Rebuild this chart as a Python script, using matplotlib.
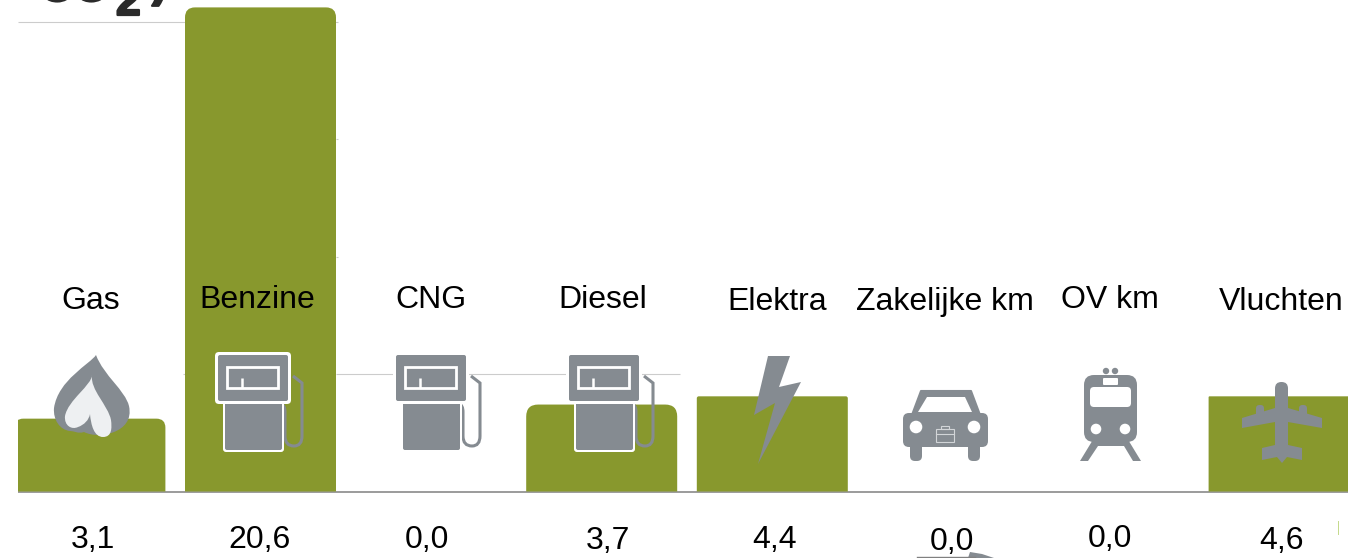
import matplotlib
matplotlib.use('Agg')
import matplotlib.pyplot as plt
import matplotlib.patheffects as pe
from matplotlib.patches import Circle, FancyBboxPatch, PathPatch, Polygon, Rectangle
from matplotlib.path import Path

plt.rcParams['font.family'] = ['Liberation Sans', 'DejaVu Sans']

categories = ['Gas', 'Benzine', 'CNG', 'Diesel', 'Elektra', 'Zakelijke km', 'OV km', 'Vluchten']
value_labels = ['3,1', '20,6', '0,0', '3,7', '4,4', '0,0', '0,0', '4,6']
# heights as drawn: Elektra and Vluchten are cut off at about 4 in the picture
bar_heights = [3.1, 20.6, 0.0, 3.7, 4.05, 0.0, 0.0, 4.05]
grid_values = [5, 10, 15, 20]

# layout, in pixels of the 1348x558 picture
W, H = 1348, 558
BASE_Y = 491.5
PX_PER_UNIT = 23.5
STEP = 170.6
FIRST_X = 89.9
corner_radius = [9, 10, 0, 12, 2, 0, 0, 1]
name_xy = [(91, 301), (257, 300), (431, 300), (603, 300), (777, 302), (945, 302), (1110, 300), (1281, 302)]
label_xy = [(93, 540), (260, 540), (427, 540), (608, 541), (775, 540), (952, 542), (1110, 539), (1281, 541)]

GREEN = '#88982d'
ICON = '#858b91'
GRID = '#cccccc'

fig = plt.figure(figsize=(W / 100, H / 100), dpi=100)

# overlay in picture pixels for gridlines, icons and text
px = fig.add_axes([0, 0, 1, 1], zorder=1)
px.set_xlim(0, W)
px.set_ylim(H, 0)
px.axis('off')

# chart axes, same pixel scale, value 0 on the baseline
ax = fig.add_axes([18 / W, (H - BASE_Y) / H, (W - 18) / W, BASE_Y / H], zorder=2)
ax.patch.set_alpha(0)
ax.set_xlim((18 - FIRST_X) / STEP, (W - FIRST_X) / STEP)
ax.set_ylim(0, BASE_Y / PX_PER_UNIT)
ax.axis('off')

icons = fig.add_axes([0, 0, 1, 1], zorder=3)
icons.set_xlim(0, W)
icons.set_ylim(H, 0)
icons.axis('off')


def rounded_bar(i, height, r_px, width=151 / STEP):
    if height <= 0:
        return
    l, rt = i - width / 2, i + width / 2
    rx, ry = r_px / STEP, r_px / PX_PER_UNIT
    verts = [(l, 0), (l, height - ry), (l, height), (l + rx, height),
             (rt - rx, height), (rt, height), (rt, height - ry), (rt, 0), (l, 0)]
    codes = [Path.MOVETO, Path.LINETO, Path.CURVE3, Path.CURVE3,
             Path.LINETO, Path.CURVE3, Path.CURVE3, Path.LINETO, Path.CLOSEPOLY]
    ax.add_patch(PathPatch(Path(verts, codes), fc=GREEN, ec='none'))


def val_y(v):
    return BASE_Y - v * PX_PER_UNIT


# gridlines only show in a few places in the picture
grid_spans = {5: [(183, 186), (336, 393), (468, 566), (641, 680)],
              10: [(336, 338)], 15: [(336, 338)], 20: [(18, 338)]}
for v in grid_values:
    for x0, x1 in grid_spans[v]:
        px.plot([x0, x1], [val_y(v)] * 2, color=GRID, lw=0.8, solid_capstyle='butt')
px.plot([18, W], [BASE_Y, BASE_Y], color='#808080', lw=1.1, solid_capstyle='butt')

for i, h in enumerate(bar_heights):
    rounded_bar(i, h, corner_radius[i])


def rrect(x0, y0, x1, y1, r, **kw):
    icons.add_patch(FancyBboxPatch((x0 + r, y0 + r), x1 - x0 - 2 * r, y1 - y0 - 2 * r,
                                   boxstyle=f'round,pad={r},rounding_size={r}', **kw))


def pump(dx):
    hose_v = [(293, 376), (302, 383), (302, 436), (302, 446), (294, 446), (285, 446), (285, 436),
              (285, 412), (285, 405), (281, 404)]
    hose_c = [Path.MOVETO, Path.LINETO, Path.LINETO, Path.CURVE3, Path.CURVE3, Path.CURVE3, Path.CURVE3,
              Path.LINETO, Path.CURVE3, Path.CURVE3]
    hose = Path([(x + dx, y) for x, y in hose_v], hose_c)
    icons.add_patch(PathPatch(hose, fc='none', ec=ICON, lw=2.2, zorder=4))
    # body and head with white outline
    rrect(223 + dx, 398, 284 + dx, 452, 3, fc='white', ec='none', zorder=5)
    rrect(225 + dx, 400, 282 + dx, 450, 2, fc=ICON, ec='none', zorder=6)
    rrect(215 + dx, 352, 291 + dx, 404, 4, fc='white', ec='none', zorder=7)
    rrect(218 + dx, 355, 288 + dx, 401, 2, fc=ICON, ec='none', zorder=8)
    # display
    icons.add_patch(Rectangle((227 + dx, 367), 51, 21, fc='none', ec='white', lw=2, zorder=9))
    icons.plot([242 + dx, 242 + dx], [378, 388], color='white', lw=1.8, zorder=9, solid_capstyle='butt')


def flame():
    C4 = Path.CURVE4
    outer = [(96, 355), (90, 364), (58, 380), (54, 408), (53, 420), (60, 430), (70, 431),
             (74, 431), (78, 434), (84, 432), (92, 436), (104, 436), (114, 432), (124, 428), (132, 420), (129, 406),
             (125, 390), (104, 376), (96, 355)]
    codes = [Path.MOVETO] + [C4] * (len(outer) - 1)
    icons.add_patch(PathPatch(Path(outer, codes), fc=ICON, ec='none', zorder=4))
    inner = [(92, 375), (92, 385), (68, 400), (65, 416), (64, 426), (72, 430), (78, 427),
             (84, 425), (89, 420), (90, 414), (91, 425), (94, 437), (103, 437), (112, 437), (112, 428), (111, 420),
             (108, 405), (90, 390), (92, 375)]
    codes = [Path.MOVETO] + [C4] * (len(inner) - 1)
    icons.add_patch(PathPatch(Path(inner, codes), fc='#eef0f2', ec='none', zorder=5))


def bolt():
    pts = [(768, 356), (790, 356), (779, 387), (801, 382), (758, 464), (775, 403), (754, 415)]
    icons.add_patch(Polygon(pts, closed=True, fc=ICON, ec='none', zorder=4))


def car():
    icons.add_patch(Polygon([(921, 391), (971, 391), (980, 415), (912, 415)], closed=True, fc=ICON, ec=ICON, lw=1.5, joinstyle='round'))
    rrect(903, 413, 988, 447, 6, fc=ICON, ec='none')
    rrect(910, 440, 922, 461, 5, fc=ICON, ec='none')
    rrect(968, 440, 980, 461, 5, fc=ICON, ec='none')
    icons.add_patch(Polygon([(927, 397), (965, 397), (972, 412), (918, 412)], closed=True, fc='white', ec='none'))
    icons.add_patch(Circle((916, 427), 6.3, fc='white', ec='none'))
    icons.add_patch(Circle((974, 427), 6.3, fc='white', ec='none'))
    case = '#d2d5d8'
    icons.add_patch(Rectangle((936, 429), 18, 13, fc='none', ec=case, lw=0.8))
    icons.add_patch(Rectangle((941, 425.5), 8, 3.5, fc='none', ec=case, lw=0.8))
    icons.plot([936, 954], [434, 434], color=case, lw=0.8)


def train():
    icons.add_patch(Polygon([(1080, 461), (1088, 461), (1098, 446), (1124, 446), (1133, 461), (1141, 461), (1127, 438), (1094, 438)],
                            closed=True, fc=ICON, ec='none'))
    rrect(1084, 375, 1137, 442, 10, fc=ICON, ec='none')
    icons.add_patch(Circle((1106, 371), 3.2, fc=ICON, ec='none'))
    icons.add_patch(Circle((1115, 371), 3.2, fc=ICON, ec='none'))
    rrect(1103, 378, 1118, 385, 1, fc='white', ec='none')
    rrect(1090, 387, 1131, 407, 4, fc='white', ec='none')
    icons.add_patch(Circle((1096, 429), 5.3, fc='white', ec='none'))
    icons.add_patch(Circle((1125, 429), 5.3, fc='white', ec='none'))


def plane():
    wing = [(1242, 418), (1275, 408), (1288, 408), (1322, 418), (1322, 428), (1288, 422), (1275, 422), (1242, 428)]
    icons.add_patch(Polygon(wing, closed=True, fc=ICON, ec='none', zorder=4))
    tail = [(1262, 448), (1275, 445), (1288, 445), (1302, 448), (1302, 460), (1287, 457), (1282, 463), (1277, 457), (1262, 460)]
    icons.add_patch(Polygon(tail, closed=True, fc=ICON, ec='none', zorder=4))
    rrect(1275, 382, 1288, 456, 6.4, fc=ICON, ec='none', zorder=4)
    rrect(1256, 405, 1264, 418, 3.5, fc=ICON, ec='none', zorder=4)
    rrect(1299, 405, 1307, 418, 3.5, fc=ICON, ec='none', zorder=4)


flame()
pump(0)
pump(178)
pump(351)
bolt()
car()
train()
plane()

for name, (x, y) in zip(categories, name_xy):
    icons.text(x, y, name, ha='center', va='center', fontsize=23, color='black', zorder=12)
for lab, (x, y) in zip(value_labels, label_xy):
    icons.text(x, y, lab, ha='center', va='center', fontsize=23, color='black', zorder=12)

# bits of the cropped title and of the next graphic at the picture edges
title_c = '#2b2b2b'
heavy = [pe.withStroke(linewidth=1.6, foreground=title_c)]
icons.text(39, 1, 'CO', ha='left', va='baseline', fontsize=34, fontweight='bold', color=title_c, path_effects=heavy)
icons.text(116, 15, '2', ha='left', va='baseline', fontsize=32, fontweight='bold', color=title_c, path_effects=heavy)
icons.text(152, -4, ')', ha='left', va='baseline', fontsize=34, fontweight='bold', color=title_c, path_effects=heavy)
icons.plot([917, 975], [557.3, 557.3], color='#808080', lw=1)
icons.add_patch(Polygon([(968, 558), (970, 552), (982, 554), (994, 558)], closed=True, fc=ICON, ec='none'))
icons.plot([1337.5, 1337.5], [521, 534], color='#c4d98a', lw=0.7)

fig.savefig('out.png', dpi=100)
